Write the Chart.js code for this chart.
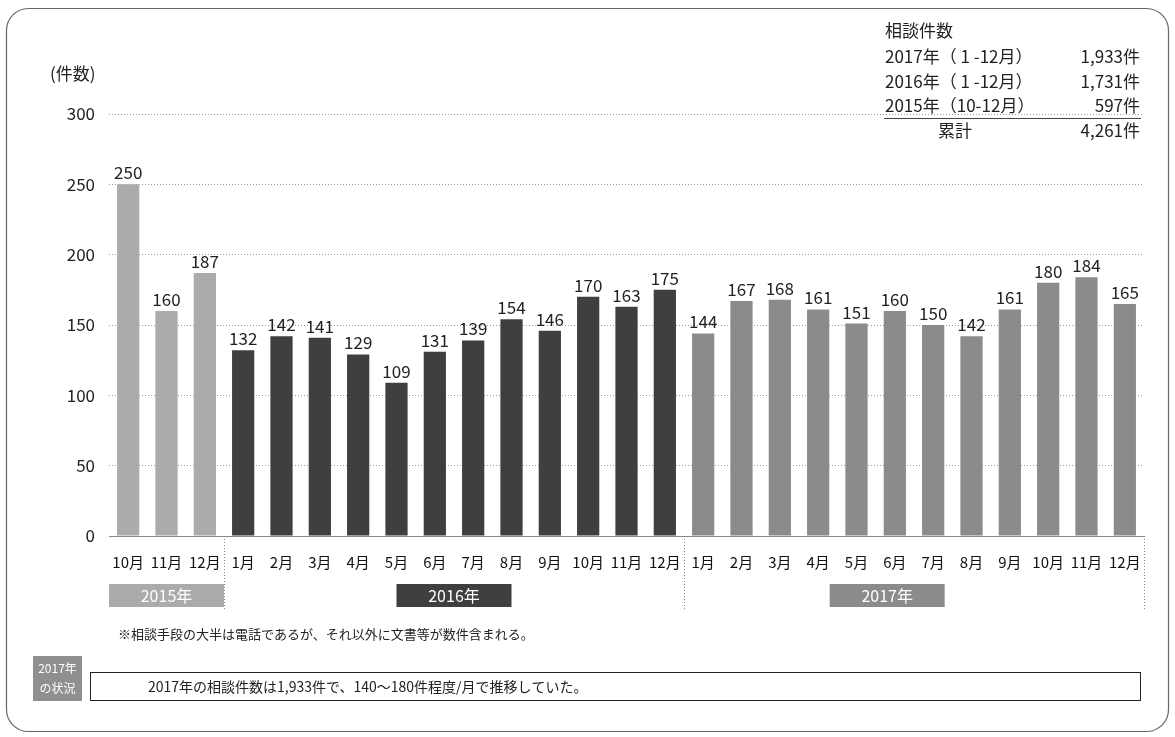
<!DOCTYPE html>
<html>
<head>
<meta charset="utf-8">
<script src="https://cdn.jsdelivr.net/npm/chart.js@4/dist/chart.umd.min.js"></script>
<style>
  html, body { margin: 0; padding: 0; background: #fff; }
  #wrap { width: 1175px; height: 737px; position: relative; }
</style>
</head>
<body>
<div id="wrap"><canvas id="c" width="1175" height="737"></canvas></div>
<script>
const months2015 = ['10月', '11月', '12月'];
const months2016 = ['1月', '2月', '3月', '4月', '5月', '6月', '7月', '8月', '9月', '10月', '11月', '12月'];
const months2017 = ['1月', '2月', '3月', '4月', '5月', '6月', '7月', '8月', '9月', '10月', '11月', '12月'];
const counts2015 = [250, 160, 187];
const counts2016 = [132, 142, 141, 129, 109, 131, 139, 154, 146, 170, 163, 175];
const counts2017 = [144, 167, 168, 161, 151, 160, 150, 142, 161, 180, 184, 165];
const yearLabels = ['2015年', '2016年', '2017年'];
const summaryTitle = '相談件数';
const summaryRows = [
  ['2017年（ 1 -12月）', '1,933件'],
  ['2016年（ 1 -12月）', '1,731件'],
  ['2015年（10-12月）', '597件']
];
const summaryTotal = ['累計', '4,261件'];
const yUnit = '(件数)';
const footNote = '※相談手段の大半は電話であるが、それ以外に文書等が数件含まれる。';
const statusTag = ['2017年', 'の状況'];
const statusText = '2017年の相談件数は1,933件で、140～180件程度/月で推移していた。';

const FONT = '"Liberation Sans Narrow", "Noto Sans CJK JP", sans-serif';
const C2015 = '#ababab', C2016 = '#3f3f3f', C2017 = '#8b8b8b';

const labels = [...months2015, ...months2016, ...months2017];
const values = [...counts2015, ...counts2016, ...counts2017];
const colors = [
  ...counts2015.map(() => C2015),
  ...counts2016.map(() => C2016),
  ...counts2017.map(() => C2017)
];

// year boxes under the month labels, in category index units
const yearBoxes = [
  { from: -0.5, to: 2.5, color: C2015 },
  { from: 7, to: 10, color: C2016 },
  { from: 18.3, to: 21.3, color: C2017 }
];

const extras = {
  id: 'extras',
  afterDraw(chart) {
    const ctx = chart.ctx;
    const x = chart.scales.x, y = chart.scales.y;
    const area = chart.chartArea;
    ctx.save();

    // outer rounded frame
    ctx.strokeStyle = '#666';
    ctx.lineWidth = 1.2;
    ctx.beginPath();
    ctx.roundRect(6.5, 8.5, 1162, 723, 22);
    ctx.stroke();

    // unit label
    ctx.fillStyle = '#222';
    ctx.font = '17px ' + FONT;
    ctx.textBaseline = 'middle';
    ctx.textAlign = 'left';
    ctx.fillText(yUnit, 50, 74);

    // value labels
    ctx.font = '17px ' + FONT;
    ctx.textAlign = 'center';
    ctx.textBaseline = 'bottom';
    chart.getDatasetMeta(0).data.forEach((bar, i) => {
      ctx.fillText(values[i], bar.x, bar.y - 3);
    });

    // dotted separators between years
    ctx.strokeStyle = '#888';
    ctx.lineWidth = 1;
    ctx.setLineDash([1, 2]);
    [2.5, 14.5, 26.5].forEach(v => {
      const px = Math.round(x.getPixelForValue(v)) + 0.5;
      ctx.beginPath();
      ctx.moveTo(px, area.bottom);
      ctx.lineTo(px, 610);
      ctx.stroke();
    });
    ctx.setLineDash([]);

    // year boxes
    ctx.font = '16px ' + FONT;
    ctx.textBaseline = 'middle';
    yearBoxes.forEach((b, i) => {
      const l = x.getPixelForValue(b.from), r = x.getPixelForValue(b.to);
      ctx.fillStyle = b.color;
      ctx.fillRect(l, 584, r - l, 23);
      ctx.fillStyle = '#fff';
      ctx.textAlign = 'center';
      ctx.fillText(yearLabels[i], (l + r) / 2, 596);
    });

    // summary table
    ctx.fillStyle = '#222';
    ctx.font = '17px ' + FONT;
    ctx.textAlign = 'left';
    ctx.fillText(summaryTitle, 885, 31);
    summaryRows.forEach((row, i) => {
      const ry = 57 + i * 24.5;
      ctx.textAlign = 'left';
      ctx.fillText(row[0], 885, ry);
      ctx.textAlign = 'right';
      ctx.fillText(row[1], 1140, ry);
    });
    ctx.strokeStyle = '#444';
    ctx.beginPath();
    ctx.moveTo(884, 118.5);
    ctx.lineTo(1141, 118.5);
    ctx.stroke();
    ctx.textAlign = 'center';
    ctx.fillText(summaryTotal[0], 955, 131);
    ctx.textAlign = 'right';
    ctx.fillText(summaryTotal[1], 1140, 131);

    // footnote
    ctx.textAlign = 'left';
    ctx.font = '13px ' + FONT;
    ctx.fillText(footNote, 118, 634);

    // status tag and box
    ctx.fillStyle = '#8f8f8f';
    ctx.fillRect(33, 656, 49, 45);
    ctx.fillStyle = '#fff';
    ctx.font = '12px ' + FONT;
    ctx.textAlign = 'center';
    ctx.fillText(statusTag[0], 57.5, 668);
    ctx.fillText(statusTag[1], 57.5, 688);
    ctx.strokeStyle = '#222';
    ctx.strokeRect(90.5, 672.5, 1050, 28);
    ctx.fillStyle = '#222';
    ctx.textAlign = 'left';
    ctx.font = '14px ' + FONT;
    ctx.fillText(statusText, 148, 687);

    ctx.restore();
  }
};

new Chart(document.getElementById('c'), {
  type: 'bar',
  data: {
    labels: labels,
    datasets: [{
      data: values,
      backgroundColor: colors,
      barPercentage: 0.58,
      categoryPercentage: 1
    }]
  },
  options: {
    responsive: false,
    animation: false,
    devicePixelRatio: 1,
    layout: { padding: { left: 49, right: 31, top: 114, bottom: 0 } },
    plugins: { legend: { display: false }, tooltip: { enabled: false } },
    scales: {
      x: {
        grid: { display: false, drawTicks: false },
        border: { display: true, color: '#888', dash: [1, 2] },
        ticks: { font: { size: 15, family: FONT }, color: '#111', padding: 17, maxRotation: 0, autoSkip: false },
        afterFit: s => { s.height = 201; }
      },
      y: {
        min: 0, max: 300,
        grid: { color: '#9a9a9a', drawTicks: false },
        border: { display: false, dash: [1, 2] },
        ticks: { stepSize: 50, font: { size: 17, family: FONT }, color: '#222', padding: 14 },
        afterFit: s => { s.width = 60; }
      }
    }
  },
  plugins: [extras]
});
</script>
</body>
</html>
